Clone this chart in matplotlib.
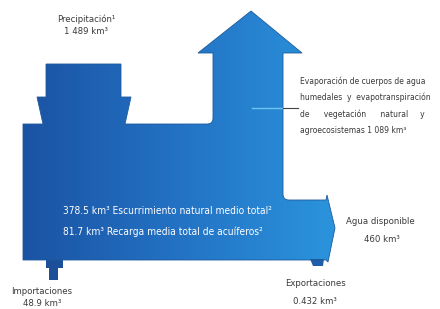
import numpy as np
import matplotlib
matplotlib.use('Agg')
import matplotlib.pyplot as plt
from matplotlib.path import Path
from matplotlib.patches import PathPatch, Polygon
from matplotlib.colors import LinearSegmentedColormap

plt.rcParams['font.family'] = ['DejaVu Sans']
plt.rcParams['font.stretch'] = 'condensed'

# datos del balance hídrico (km³)
flujos = ['Precipitación', 'Evapotranspiración', 'Escurrimiento', 'Recarga',
          'Importaciones', 'Exportaciones', 'Agua disponible']
valores = ['1 489', '1 089', '378.5', '81.7', '48.9', '0.432', '460']

W, H = 440, 309
fig = plt.figure(figsize=(W / 100, H / 100), dpi=100)
ax = fig.add_axes([0, 0, 1, 1])
ax.set_xlim(0, W)
ax.set_ylim(H, 0)
ax.axis('off')

# contorno del flujo principal (coordenadas de dibujo)
M, L, C = Path.MOVETO, Path.LINETO, Path.CURVE3
verts = [
    (46, 64), (121, 64), (121, 97), (131, 97), (125, 124),
    (207, 124), (213, 124), (213, 118),
    (213, 53), (198, 53), (251, 11), (302, 53), (283, 53),
    (283, 194), (283, 200), (289, 200),
    (326, 200), (327, 195), (335, 228), (328, 262), (326, 260),
    (23, 260), (23, 124), (43, 124), (37, 97), (46, 97), (46, 64),
]
codes = [M, L, L, L, L,
         L, C, C,
         L, L, L, L, L,
         L, C, C,
         L, L, L, L, L,
         L, L, L, L, L, L]
cuerpo = Path(verts, codes)
patch = PathPatch(cuerpo, facecolor='none', edgecolor='#1d5a9c', lw=0.6, zorder=3)
ax.add_patch(patch)

cmap = LinearSegmentedColormap.from_list('agua', ['#1b52a2', '#2372c4', '#2b94dd'])
grad = np.tile(np.linspace(0, 1, 256), (8, 1))
img = ax.imshow(grad, cmap=cmap, extent=(20, 336, 262, 10), aspect='auto', zorder=2)
img.set_clip_path(patch)

# importaciones y exportaciones
ax.add_patch(Polygon([(46, 260), (63, 260), (63, 268), (58, 268), (58, 280),
                      (49, 280), (49, 268), (46, 268)],
                     closed=True, facecolor='#1c4f9a', edgecolor='none', zorder=2))
ax.add_patch(Polygon([(310, 259), (324, 259), (323, 266), (313, 266)],
                     closed=True, facecolor='#1f5ea8', edgecolor='none', zorder=2))

# línea guía de evaporación
ax.plot([252, 283], [108, 108], color='#6cc6ee', lw=1.0, zorder=4)
ax.plot([283, 298], [108, 108], color='#444444', lw=0.8, zorder=4)

gris = '#3a3a3a'
fs = 6.8
ax.text(86, 19, f'{flujos[0]}¹', ha='center', va='center', fontsize=fs, color=gris)
ax.text(86, 31, f'{valores[0]} km³', ha='center', va='center', fontsize=fs, color=gris)

evap = ['Evaporación de cuerpos de agua',
        'humedales  y  evapotranspiración',
        'de      vegetación      natural     y',
        f'agroecosistemas {valores[1]} km³']
for i, linea in enumerate(evap):
    ax.text(300, 81 + 16.5 * i, linea, ha='left', va='center', fontsize=6.1, color=gris)

ax.text(63, 211, f'{valores[2]} km³ Escurrimiento natural medio total²',
        ha='left', va='center', fontsize=7.3, color='white')
ax.text(63, 232, f'{valores[3]} km³ Recarga media total de acuíferos²',
        ha='left', va='center', fontsize=7.3, color='white')

ax.text(380, 222, flujos[6], ha='center', va='center', fontsize=fs, color=gris)
ax.text(382, 240, f'{valores[6]} km³', ha='center', va='center', fontsize=fs, color=gris)

ax.text(315, 283, flujos[5], ha='center', va='center', fontsize=fs, color=gris)
ax.text(315, 302, f'{valores[5]} km³', ha='center', va='center', fontsize=fs, color=gris)

ax.text(42, 292, flujos[4], ha='center', va='center', fontsize=fs, color=gris)
ax.text(42, 304, f'{valores[4]} km³', ha='center', va='center', fontsize=fs, color=gris)

fig.savefig('out.png', dpi=100)
